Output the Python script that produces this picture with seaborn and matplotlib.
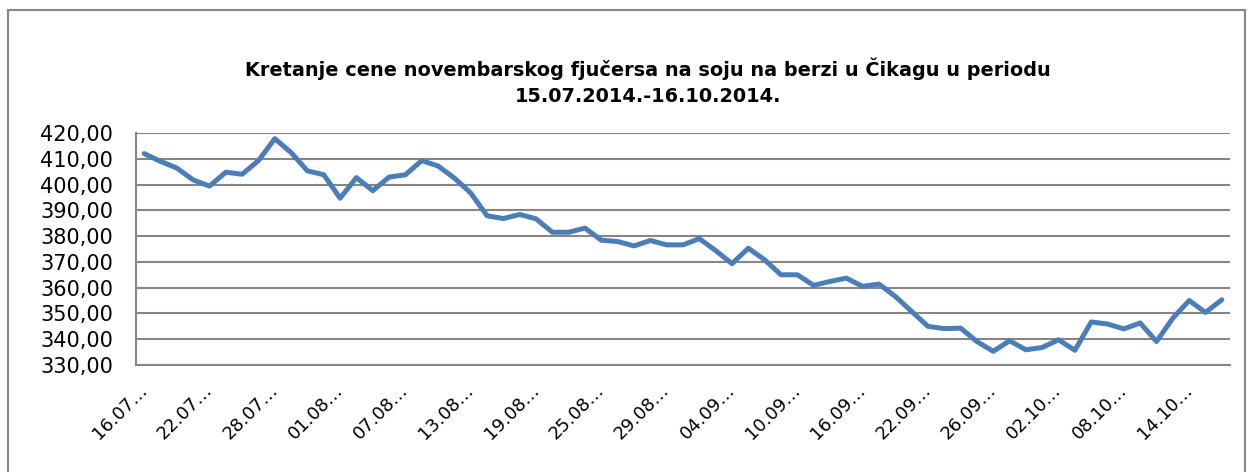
import matplotlib
matplotlib.use("Agg")
import matplotlib.pyplot as plt
import matplotlib.transforms as mtransforms
import seaborn as sns
import pandas as pd
from matplotlib.patches import Rectangle
from matplotlib.ticker import FuncFormatter, FixedLocator

# trading days, 16.07.2014 - 16.10.2014
dates = [
    "16.07.2014.", "17.07.2014.", "18.07.2014.", "21.07.2014.", "22.07.2014.", "23.07.2014.",
    "24.07.2014.", "25.07.2014.", "28.07.2014.", "29.07.2014.", "30.07.2014.", "31.07.2014.",
    "01.08.2014.", "04.08.2014.", "05.08.2014.", "06.08.2014.", "07.08.2014.", "08.08.2014.",
    "11.08.2014.", "12.08.2014.", "13.08.2014.", "14.08.2014.", "15.08.2014.", "18.08.2014.",
    "19.08.2014.", "20.08.2014.", "21.08.2014.", "22.08.2014.", "25.08.2014.", "26.08.2014.",
    "27.08.2014.", "28.08.2014.", "29.08.2014.", "01.09.2014.", "02.09.2014.", "03.09.2014.",
    "04.09.2014.", "05.09.2014.", "08.09.2014.", "09.09.2014.", "10.09.2014.", "11.09.2014.",
    "12.09.2014.", "15.09.2014.", "16.09.2014.", "17.09.2014.", "18.09.2014.", "19.09.2014.",
    "22.09.2014.", "23.09.2014.", "24.09.2014.", "25.09.2014.", "26.09.2014.", "29.09.2014.",
    "30.09.2014.", "01.10.2014.", "02.10.2014.", "03.10.2014.", "06.10.2014.", "07.10.2014.",
    "08.10.2014.", "09.10.2014.", "10.10.2014.", "13.10.2014.", "14.10.2014.", "15.10.2014.",
    "16.10.2014.",
]

prices = [
    412.0, 409.0, 406.4, 401.8, 399.4, 404.8, 404.0, 409.3, 417.8, 412.4,
    405.3, 403.8, 394.7, 402.7, 397.6, 402.9, 403.8, 409.3, 407.2, 402.5,
    396.7, 387.9, 386.8, 388.4, 386.7, 381.5, 381.5, 383.1, 378.4, 377.9,
    376.2, 378.3, 376.6, 376.6, 379.0, 374.4, 369.3, 375.3, 370.8, 365.0,
    365.0, 360.9, 362.4, 363.7, 360.5, 361.4, 356.6, 350.8, 345.0, 344.1,
    344.3, 339.1, 335.3, 339.4, 335.9, 336.8, 339.8, 335.7, 346.7, 345.9,
    344.0, 346.3, 339.1, 348.2, 355.0, 350.4, 355.3,
]

title = "Kretanje cene novembarskog fjučersa na soju na berzi u Čikagu u periodu\n15.07.2014.-16.10.2014."

df = pd.DataFrame({"idx": range(len(dates)), "datum": dates, "cena": prices})

sns.set_style("white")
plt.rcParams["font.family"] = ["DejaVu Sans"]
plt.rcParams["text.color"] = "black"

W, H = 1253, 472
fig = plt.figure(figsize=(W / 100, H / 100), dpi=100)
ax = fig.add_axes([136 / W, 1 - 365 / H, (1230 - 136) / W, (365 - 133) / H])

grid_col = "#868686"

sns.lineplot(data=df, x="idx", y="cena", ax=ax, color="#4A7EBB", linewidth=3.6)

ax.set_xlim(-0.5, len(dates) - 0.5)
ax.set_ylim(330, 420)
ax.set_yticks(range(330, 421, 10))
ax.yaxis.set_major_formatter(FuncFormatter(lambda v, p: f"{v:.2f}".replace(".", ",")))
ax.yaxis.grid(True, color=grid_col, linewidth=1.5)
ax.set_axisbelow(True)

# labels every 4th day, tick marks between categories
lab_pos = list(range(0, len(dates), 4))
ax.xaxis.set_major_locator(FixedLocator(lab_pos))
ax.set_xticklabels([dates[i][:5] + "…" for i in lab_pos], rotation=45,
                   ha="right", va="center", rotation_mode="anchor", fontsize=13)
shift = mtransforms.ScaledTranslation(18 / 100, 0, fig.dpi_scale_trans)
for lbl in ax.get_xticklabels():
    lbl.set_transform(lbl.get_transform() + shift)
ax.xaxis.set_minor_locator(FixedLocator([i - 0.5 for i in range(len(dates) + 1)]))
ax.tick_params(axis="x", which="major", length=0, pad=16, labelcolor="black")
ax.tick_params(axis="x", which="minor", length=8, width=1.3, color=grid_col, direction="out")
ax.tick_params(axis="y", length=6.5, width=1.3, color=grid_col, labelsize=15, pad=10,
               labelcolor="black")

ax.set_xlabel("")
ax.set_ylabel("")
for side in ["top", "right"]:
    ax.spines[side].set_visible(False)
for side in ["left", "bottom"]:
    ax.spines[side].set_color(grid_col)
    ax.spines[side].set_linewidth(1.5)

fig.text(648 / W, 1 - 82 / H, title, ha="center", va="center", fontsize=13.9,
         fontweight="bold", linespacing=1.45, color="black")

fig.patches.append(Rectangle((8 / W, -0.05), (1245 - 8) / W, 1 - 10 / H + 0.05,
                             transform=fig.transFigure, fill=False,
                             edgecolor=grid_col, linewidth=1.5))

fig.savefig("out.png", dpi=100)
